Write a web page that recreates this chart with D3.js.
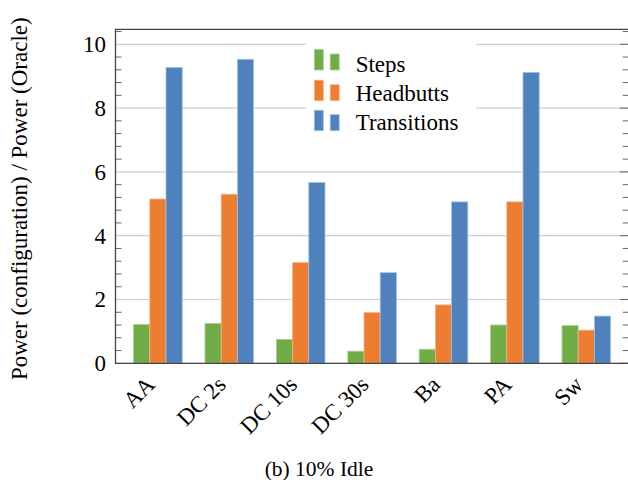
<!DOCTYPE html>
<html>
<head>
<meta charset="utf-8">
<script src="https://cdn.jsdelivr.net/npm/d3@7"></script>
<style>
  html, body { margin: 0; padding: 0; background: #fff; }
  svg { display: block; }
</style>
</head>
<body>
<svg id="chart" width="628" height="480"></svg>
<script>
const categories = ["AA", "DC 2s", "DC 10s", "DC 30s", "Ba", "PA", "Sw"];
const seriesNames = ["Steps", "Headbutts", "Transitions"];
const steps       = [1.22, 1.25, 0.75, 0.38, 0.44, 1.20, 1.18];
const headbutts   = [5.15, 5.30, 3.16, 1.59, 1.83, 5.06, 1.04];
const transitions = [9.27, 9.53, 5.67, 2.84, 5.06, 9.12, 1.48];
const seriesColors = ["#70ad47", "#ed7d31", "#4f81bd"];
const seriesStroke = ["#a9cf8f", "#f5b488", "#a3c0e2"];
const yTicks = [0, 2, 4, 6, 8, 10];
const yLabel = "Power (configuration) / Power (Oracle)";
const caption = "(b) 10% Idle";

const seriesValues = [steps, headbutts, transitions];
const FONT = "'Liberation Serif', 'Tinos', 'Times New Roman', 'DejaVu Serif', serif";

const svg = d3.select("#chart").attr("font-family", FONT);
const L = 115.5, R = 628.7, T = 29.3, B = 363.3;

const x = d3.scalePoint().domain(categories).range([L, R]).padding(0.594);
const xs = d3.scaleBand().domain(seriesNames).range([-24.3, 24.3]).padding(0);
const y = d3.scaleLinear().domain([0, 10.47]).range([B, T]);

// grid lines
svg.append("g").selectAll("line").data(yTicks).join("line")
  .attr("x1", L).attr("x2", R)
  .attr("y1", d => y(d)).attr("y2", d => y(d))
  .attr("stroke", "#cfcfcf").attr("stroke-width", 1.2);

// minor ticks
const minor = d3.range(0, 10.41, 0.4).filter(v => Math.abs(v / 2 - Math.round(v / 2)) > 1e-6);
const tg = svg.append("g").attr("stroke", "#666").attr("stroke-width", 1);
tg.selectAll("line.l").data(minor).join("line").attr("class", "l")
  .attr("x1", L).attr("x2", L + 6).attr("y1", d => y(d)).attr("y2", d => y(d));
tg.selectAll("line.r").data(minor).join("line").attr("class", "r")
  .attr("x1", R - 6).attr("x2", R).attr("y1", d => y(d)).attr("y2", d => y(d));
tg.selectAll("line.rm").data(yTicks).join("line").attr("class", "rm")
  .attr("x1", R - 9).attr("x2", R).attr("y1", d => y(d)).attr("y2", d => y(d));

// legend background (hides grid)
const legend = svg.append("g");
legend.append("rect").attr("x", 306).attr("y", 36).attr("width", 170).attr("height", 104).attr("fill", "#fff");

// bars
const groups = svg.append("g").selectAll("g").data(seriesNames).join("g");
groups.each(function(name, si) {
  d3.select(this).selectAll("rect").data(categories).join("rect")
    .attr("x", c => x(c) + xs(name))
    .attr("width", xs.bandwidth())
    .attr("y", (c, i) => y(seriesValues[si][i]))
    .attr("height", (c, i) => y(0) - y(seriesValues[si][i]))
    .attr("fill", seriesColors[si])
    .attr("stroke", seriesStroke[si])
    .attr("stroke-width", 0.8);
});

// frame
svg.append("path")
  .attr("d", `M${L},${B}V${T}H${R}V${B}Z`)
  .attr("fill", "none").attr("stroke", "#444").attr("stroke-width", 1.3);

// y tick labels
svg.append("g").selectAll("text").data(yTicks).join("text")
  .attr("x", 106).attr("y", d => y(d)).attr("dy", "0.34em")
  .attr("text-anchor", "end").attr("font-size", 23)
  .text(d => d);

// x labels
svg.append("g").selectAll("text").data(categories).join("text")
  .attr("transform", d => `translate(${x(d) - 2},${386}) rotate(-45)`)
  .attr("text-anchor", "end").attr("font-size", 23)
  .text(d => d);

// y label
svg.append("text")
  .attr("transform", `translate(27,${198.7}) rotate(-90)`)
  .attr("text-anchor", "middle").attr("font-size", 23)
  .text(yLabel);

// caption
svg.append("text")
  .attr("x", 319).attr("y", 476)
  .attr("text-anchor", "middle").attr("font-size", 21.5)
  .text(caption);

// legend entries
const rowBase = [71.7, 101, 130];
const iconBottom = [70, 100.7, 130.7];
seriesNames.forEach((name, i) => {
  const b = iconBottom[i];
  legend.append("rect").attr("x", 314.3).attr("y", b - 20.5).attr("width", 9).attr("height", 20.5)
    .attr("fill", seriesColors[i]).attr("stroke", seriesStroke[i]).attr("stroke-width", 0.8);
  legend.append("rect").attr("x", 330.2).attr("y", b - 16).attr("width", 9).attr("height", 16)
    .attr("fill", seriesColors[i]).attr("stroke", seriesStroke[i]).attr("stroke-width", 0.8);
  legend.append("text").attr("x", 355.7).attr("y", rowBase[i]).attr("font-size", 23).text(name);
});
</script>
</body>
</html>
